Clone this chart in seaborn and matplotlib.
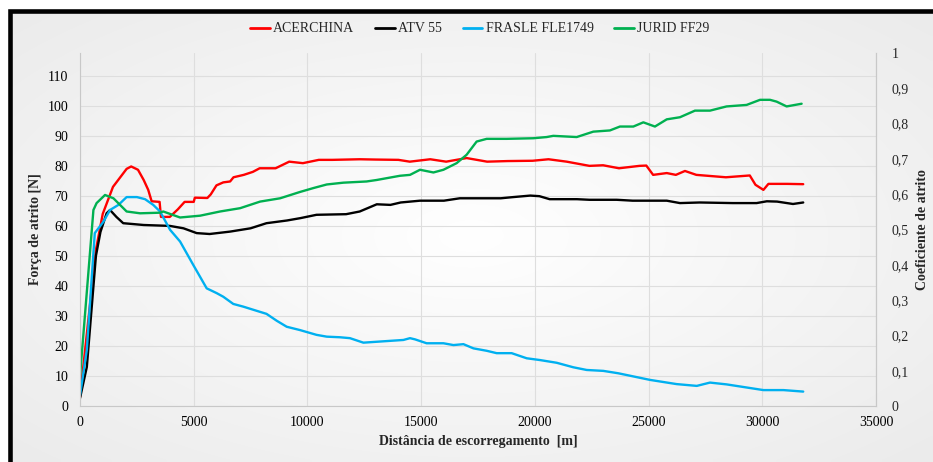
import matplotlib
matplotlib.use("Agg")
import matplotlib.pyplot as plt
import numpy as np
import pandas as pd
import seaborn as sns
from matplotlib.patches import Rectangle
from matplotlib.lines import Line2D
from matplotlib.ticker import FuncFormatter

# ---------------- data ----------------
series_names = ["ACERCHINA", "ATV 55", "FRASLE FLE1749", "JURID FF29"]
series_colors = ["#ff0000", "#000000", "#00b0f0", "#00b050"]

acer_x = [0, 700, 1000, 1450, 1750, 2050, 2250, 2550, 2800, 3000, 3150, 3500, 3560, 3950, 4300,
          4600, 5000, 5050, 5600, 5750, 6000, 6300, 6600, 6750, 7200, 7600, 7900, 8600, 9200, 9800,
          10500, 11100, 12300, 13000, 14000, 14500, 15400, 16100, 17000, 17900, 18800, 19900, 20600,
          21400, 22400, 23000, 23700, 24600, 24900, 25200, 25800, 26200, 26600, 27100, 28400, 29450,
          29700, 30050, 30270, 31100, 31800]
acer_y = [3, 52, 64, 73, 76, 79, 79.8, 78.7, 75.3, 72, 68.2, 68, 63, 63, 65.5,
          68, 68, 69.4, 69.3, 70.5, 73.5, 74.5, 74.8, 76.2, 77, 78, 79.2, 79.2, 81.4, 80.9,
          82, 82, 82.2, 82.1, 82, 81.4, 82.2, 81.4, 82.6, 81.4, 81.6, 81.7, 82.2,
          81.4, 80, 80.2, 79.2, 80, 80.1, 77, 77.6, 77, 78.3, 77, 76.2, 76.8,
          73.7, 72, 74, 74, 73.9]

atv_x = [0, 300, 700, 900, 1170, 1320, 1600, 1900, 2800, 3950, 4550, 5130, 5700, 6600, 7500,
         8200, 9100, 9700, 10400, 11700, 12300, 13050, 13650, 14100, 14950, 16000, 16700, 18500,
         19050, 19800, 20200, 20650, 21850, 22400, 23600, 24300, 25800, 26380, 27250, 28700,
         29750, 30200, 30650, 31350, 31800]
atv_y = [2.6, 13, 50, 58, 64.2, 65.3, 63, 60.9, 60.3, 60, 59.2, 57.6, 57.3, 58.1, 59.2,
         60.9, 61.8, 62.6, 63.7, 63.9, 64.8, 67.2, 67, 67.8, 68.4, 68.4, 69.2, 69.2,
         69.6, 70.1, 69.9, 68.9, 68.9, 68.7, 68.7, 68.4, 68.4, 67.6, 67.8, 67.6,
         67.6, 68.2, 68.1, 67.3, 67.8]

fras_x = [0, 300, 650, 1030, 1320, 1690, 2050, 2500, 2860, 3220, 3520, 3960, 4400, 4980, 5570,
          6010, 6300, 6740, 7180, 7900, 8200, 8650, 9090, 9670, 10400, 10850, 11430, 11870, 12460,
          13630, 14220, 14510, 14730, 15240, 15980, 16420, 16860, 17300, 17880, 18320, 18980,
          19640, 20230, 20960, 21690, 22280, 23010, 23670, 25060, 26230, 27120, 27700, 28430,
          30050, 30930, 31800]
fras_y = [3.5, 18.7, 57.6, 61.4, 65.3, 67, 69.6, 69.6, 68.9, 67, 64.8, 58.7, 54.8, 47, 39.2,
          37.6, 36.4, 34, 33.1, 31.4, 30.7, 28.4, 26.4, 25.3, 23.7, 23.1, 22.9, 22.6, 21.1,
          21.7, 22, 22.6, 22.2, 20.9, 20.9, 20.3, 20.6, 19.2, 18.4, 17.6, 17.6,
          15.9, 15.3, 14.4, 12.9, 12, 11.7, 10.9, 8.7, 7.3, 6.7, 7.8, 7.2,
          5.3, 5.3, 4.8]

jur_x = [0, 590, 730, 1100, 1470, 2050, 2640, 3520, 3660, 4400, 5280, 6160, 7040, 7920, 8800,
         9670, 10260, 10850, 11580, 12600, 13050, 14070, 14510, 14950, 15540, 15980, 16560, 17000,
         17440, 17880, 18760, 19930, 20520, 20810, 21840, 22570, 23300, 23740, 24330, 24770,
         25280, 25800, 26380, 27040, 27700, 28430, 29310, 29900, 30340, 30630, 31070, 31730]
jur_y = [9.8, 65.3, 67.6, 70.3, 69.2, 64.8, 64.2, 64.4, 64.8, 62.8, 63.4, 64.8, 65.9, 68.1, 69.2,
         71.3, 72.6, 73.8, 74.4, 74.8, 75.3, 76.7, 77, 78.7, 77.8, 78.7, 80.9, 83.7,
         88.1, 89, 89, 89.2, 89.6, 90, 89.6, 91.4, 91.8, 93.1, 93.1, 94.5,
         93.1, 95.5, 96.2, 98.4, 98.4, 99.8, 100.3, 102, 102, 101.4, 99.8, 100.7]

x_ticks = [0, 5000, 10000, 15000, 20000, 25000, 30000, 35000]
left_ticks = [0, 10, 20, 30, 40, 50, 60, 70, 80, 90, 100, 110]
right_ticks = [0, 0.1, 0.2, 0.3, 0.4, 0.5, 0.6, 0.7, 0.8, 0.9, 1.0]
left_max = 117.6

x_label = "Distância de escorregamento  [m]"
y_label = "Força de atrito [N]"
y2_label = "Coeficiente de atrito"

# ---------------- build table ----------------
frames = []
for name, xs, ys in zip(series_names,
                        [acer_x, atv_x, fras_x, jur_x],
                        [acer_y, atv_y, fras_y, jur_y]):
    frames.append(pd.DataFrame({"dist": xs, "force": ys, "material": name}))
df = pd.concat(frames, ignore_index=True)

# ---------------- style ----------------
sns.set_style("white")
plt.rcParams["font.family"] = ["Liberation Serif", "DejaVu Serif"]
plt.rcParams["font.size"] = 10

W, H = 933, 462
fig = plt.figure(figsize=(W / 100, H / 100), dpi=100)
fig.patch.set_facecolor("white")

# chart background: subtle radial gradient inside a thick black frame (top/left visible)
bg = fig.add_axes([10 / W, 0, 1 - 10 / W, 1 - 10.5 / H], zorder=-20)
bg.set_axis_off()
gx, gy = np.meshgrid(np.linspace(-1, 1, 200), np.linspace(-1, 1, 100))
rr = np.clip(np.sqrt(gx ** 2 + gy ** 2) / 1.35, 0, 1)
shade = 1.0 - 0.075 * rr
bg.imshow(np.dstack([shade, shade, shade]), aspect="auto", extent=(0, 1, 0, 1),
          interpolation="bilinear")
bg.set_xlim(0, 1)
bg.set_ylim(0, 1)
frame = Rectangle((10 / W, -0.05), 1.0, 1 - 10.5 / H + 0.05, transform=fig.transFigure,
                  facecolor="none", edgecolor="black", linewidth=3.3, zorder=5)
fig.patches.append(frame)

ax = fig.add_axes([80 / W, 1 - 406 / H, 796 / W, 353 / H])
ax.set_facecolor("none")

sns.lineplot(data=df, x="dist", y="force", hue="material",
             palette=dict(zip(series_names, series_colors)), hue_order=series_names,
             estimator=None, sort=False, linewidth=1.7, ax=ax, legend=False)

ax.set_xlim(0, 35000)
ax.set_ylim(0, left_max)
ax.set_xticks(x_ticks)
ax.set_yticks(left_ticks)
ax.grid(True, color="#dedede", linewidth=0.8)
ax.set_axisbelow(True)
for s in ["left", "bottom", "right"]:
    ax.spines[s].set_visible(True)
    ax.spines[s].set_color("#c8c8c8")
    ax.spines[s].set_linewidth(0.8)
ax.spines["top"].set_visible(False)
ax.tick_params(axis="both", length=0, labelsize=10, colors="#000000")
ax.tick_params(axis="y", pad=8.5)
ax.tick_params(axis="x", pad=7.5)

ax.set_xlabel(x_label, fontweight="bold", fontsize=10)
ax.xaxis.label.set_va("center")
ax.xaxis.set_label_coords(0.5, (406 - 442) / 353)
ax.set_ylabel(y_label, fontweight="bold", fontsize=10)
ax.yaxis.label.set_va("center")
ax.yaxis.set_label_coords((35 - 80) / 796, 0.5)

ax2 = ax.twinx()
ax2.set_ylim(0, 1)
ax2.set_yticks(right_ticks)
ax2.yaxis.set_major_formatter(FuncFormatter(lambda v, p: ("%g" % round(v, 1)).replace(".", ",")))
ax2.tick_params(axis="y", length=0, labelsize=10, pad=11)
for s in ["left", "bottom", "top"]:
    ax2.spines[s].set_visible(False)
ax2.spines["right"].set_color("#c8c8c8")
ax2.spines["right"].set_linewidth(0.8)
ax2.set_ylabel(y2_label, fontweight="bold", fontsize=10, rotation=90)
ax2.yaxis.label.set_va("center")
ax2.yaxis.set_label_coords((922 - 80) / 796, 0.5)
ax2.patch.set_visible(False)

handles = [Line2D([0], [0], color=c, linewidth=2) for c in series_colors]
fig.legend(handles, series_names, loc="center", bbox_to_anchor=(480 / W, 1 - 29 / H),
           ncol=4, frameon=False, handlelength=1.4, handletextpad=0.25, columnspacing=1.5,
           fontsize=10)

fig.savefig("out.png", dpi=100, facecolor=fig.get_facecolor())
